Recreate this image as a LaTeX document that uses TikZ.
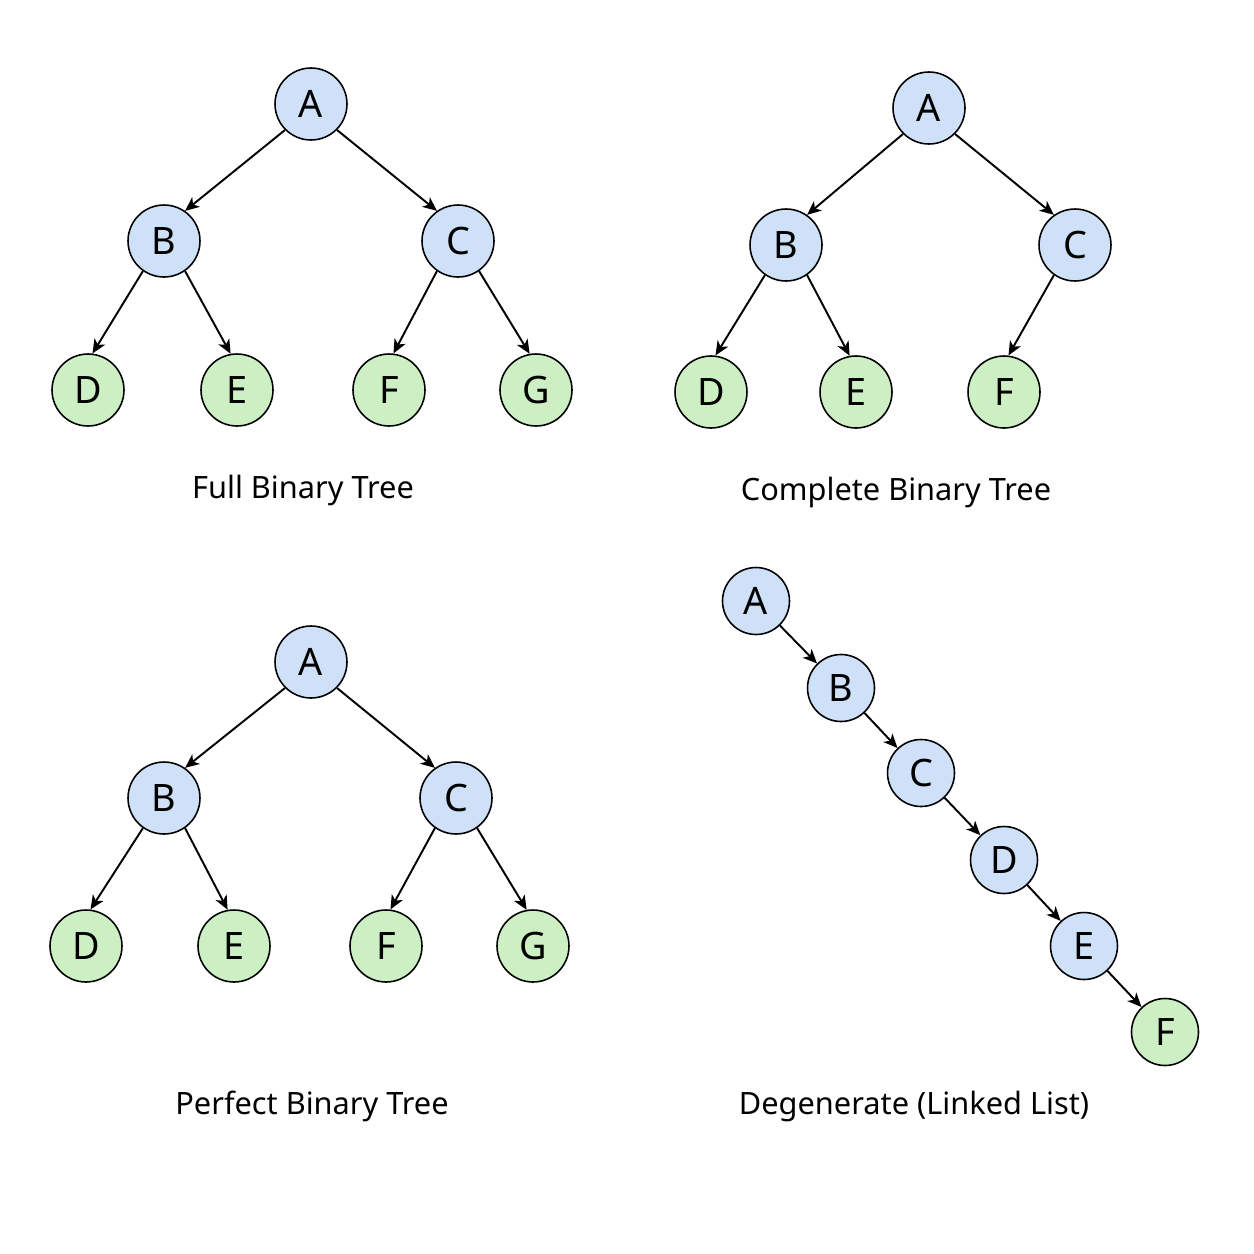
\documentclass[tikz,border=0pt]{standalone}
\usepackage{fontspec}
\setmainfont{Noto Sans}
\usepackage{tikz}
\usetikzlibrary{arrows.meta}
\definecolor{innerblue}{HTML}{CFE1F8}
\definecolor{leafgreen}{HTML}{CDEFC4}

\begin{document}
\begin{tikzpicture}[x=0.02cm, y=-0.02cm,
    nodes={draw, circle, line width=0.9pt, minimum size=1.44cm, inner sep=0pt,
           font=\fontsize{21.5}{25}\selectfont},
    inner/.style={fill=innerblue},
    leaf/.style={fill=leafgreen},
    small/.style={minimum size=1.34cm},
    caption/.style={draw=none, rectangle, minimum size=0pt, anchor=base,
                    font=\fontsize{17.5}{21}\selectfont},
    link/.style={line width=1.1pt, -{Stealth[length=8pt, width=7pt, inset=2.2pt]}}]
    \useasboundingbox (0,0) rectangle (1254,1254);
    \fill[white] (0,0) rectangle (1254,1254);

    % full binary tree
    \node[inner] (fa) at (311,104) {A};
    \node[inner] (fb) at (164,241) {B};
    \node[inner] (fc) at (458,241) {C};
    \node[leaf]  (fd) at (88,390)  {D};
    \node[leaf]  (fe) at (237,390) {E};
    \node[leaf]  (ff) at (389,390) {F};
    \node[leaf]  (fg) at (536,390) {G};
    \draw[link] (fa.225) -- (fb.55);
    \draw[link] (fa.315) -- (fc.125);
    \draw[link] (fb.235) -- (fd.83);
    \draw[link] (fb.305) -- (fe.100);
    \draw[link] (fc.235) -- (ff.83);
    \draw[link] (fc.305) -- (fg.100);
    \node[caption] (fcap) at (303,498) {Full Binary Tree};

    % complete binary tree
    \node[inner] (ca) at (929,108)  {A};
    \node[inner] (cb) at (786,245)  {B};
    \node[inner] (cc) at (1075,245) {C};
    \node[leaf]  (cd) at (711,392)  {D};
    \node[leaf]  (ce) at (856,392)  {E};
    \node[leaf]  (cf) at (1004,392) {F};
    \draw[link] (ca.225) -- (cb.55);
    \draw[link] (ca.315) -- (cc.125);
    \draw[link] (cb.235) -- (cd.83);
    \draw[link] (cb.305) -- (ce.100);
    \draw[link] (cc.235) -- (cf.83);
    \node[caption] (ccap) at (896,500) {Complete Binary Tree};

    % perfect binary tree
    \node[inner] (pa) at (311,662) {A};
    \node[inner] (pb) at (164,798) {B};
    \node[inner] (pc) at (456,798) {C};
    \node[leaf]  (pd) at (86,946)  {D};
    \node[leaf]  (pe) at (234,946) {E};
    \node[leaf]  (pf) at (386,946) {F};
    \node[leaf]  (pg) at (533,946) {G};
    \draw[link] (pa.225) -- (pb.55);
    \draw[link] (pa.315) -- (pc.125);
    \draw[link] (pb.235) -- (pd.83);
    \draw[link] (pb.305) -- (pe.100);
    \draw[link] (pc.235) -- (pf.83);
    \draw[link] (pc.305) -- (pg.100);
    \node[caption] (pcap) at (312,1114) {Perfect Binary Tree};

    % degenerate tree
    \node[inner, small] (da) at (756,601)  {A};
    \node[inner, small] (db) at (841,688)  {B};
    \node[inner, small] (dc) at (921,773)  {C};
    \node[inner, small] (dd) at (1004,860) {D};
    \node[inner, small] (de) at (1084,946) {E};
    \node[leaf, small]  (df) at (1165,1032) {F};
    \draw[link] (da) -- (db);
    \draw[link] (db) -- (dc);
    \draw[link] (dc) -- (dd);
    \draw[link] (dd) -- (de);
    \draw[link] (de) -- (df);
    \node[caption] (dcap) at (914,1114) {Degenerate (Linked List)};
\end{tikzpicture}
\end{document}
